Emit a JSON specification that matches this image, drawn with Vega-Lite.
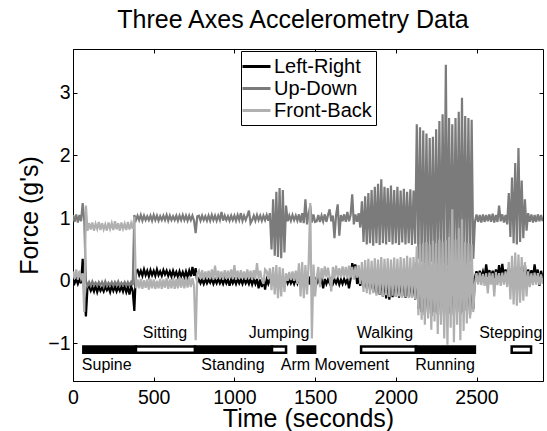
{
"$schema": "https://vega.github.io/schema/vega-lite/v6.json",
"width": 470,
"height": 332,
"autosize": {"type": "none"},
"padding": {"left": 73, "top": 49, "right": 4, "bottom": 50},
"background": "white",
"title": {"text": "Three Axes Accelerometry Data", "fontSize": 25, "font": "Liberation Sans", "fontWeight": "normal", "color": "black", "anchor": "middle", "frame": "group", "baseline": "alphabetic", "offset": 20, "dx": -15, "dy": 24},
"config": {"font": "Liberation Sans", "view": {"stroke": "black", "strokeWidth": 1}, "axis": {"domainColor": "black", "tickColor": "black", "labelColor": "black", "titleColor": "black", "grid": false, "titleFontWeight": "normal", "labelFont": "Liberation Sans", "titleFont": "Liberation Sans"}},
"datasets": {
"acc": [
{"t":0,"Left-Right":0.02,"Up-Down":1.05,"Front-Back":0.15},
{"t":10,"Left-Right":-0.04,"Up-Down":0.94,"Front-Back":0.03},
{"t":20,"Left-Right":0.03,"Up-Down":1.06,"Front-Back":0.18},
{"t":30,"Left-Right":-0.05,"Up-Down":0.93,"Front-Back":0.02},
{"t":40,"Left-Right":0.02,"Up-Down":1.05,"Front-Back":0.16},
{"t":50,"Left-Right":-0.04,"Up-Down":0.95,"Front-Back":0.04},
{"t":60,"Left-Right":0.35,"Up-Down":1.24,"Front-Back":0.12},
{"t":70,"Left-Right":-0.2,"Up-Down":0.95,"Front-Back":-0.5},
{"t":80,"Left-Right":-0.57,"Up-Down":0.0,"Front-Back":1.2},
{"t":90,"Left-Right":-0.1,"Up-Down":-0.08,"Front-Back":0.8},
{"t":100,"Left-Right":-0.09,"Up-Down":-0.02,"Front-Back":0.92},
{"t":110,"Left-Right":-0.16,"Up-Down":-0.08,"Front-Back":0.82},
{"t":120,"Left-Right":-0.1,"Up-Down":-0.01,"Front-Back":0.93},
{"t":130,"Left-Right":-0.17,"Up-Down":-0.07,"Front-Back":0.8},
{"t":140,"Left-Right":-0.08,"Up-Down":-0.03,"Front-Back":0.91},
{"t":150,"Left-Right":-0.18,"Up-Down":-0.08,"Front-Back":0.83},
{"t":160,"Left-Right":-0.09,"Up-Down":-0.02,"Front-Back":0.94},
{"t":170,"Left-Right":-0.16,"Up-Down":-0.07,"Front-Back":0.81},
{"t":180,"Left-Right":-0.11,"Up-Down":-0.02,"Front-Back":0.92},
{"t":190,"Left-Right":-0.17,"Up-Down":-0.09,"Front-Back":0.82},
{"t":200,"Left-Right":-0.09,"Up-Down":-0.01,"Front-Back":0.9},
{"t":210,"Left-Right":-0.15,"Up-Down":-0.08,"Front-Back":0.8},
{"t":220,"Left-Right":-0.1,"Up-Down":-0.03,"Front-Back":0.93},
{"t":230,"Left-Right":-0.18,"Up-Down":-0.07,"Front-Back":0.83},
{"t":240,"Left-Right":-0.08,"Up-Down":-0.02,"Front-Back":0.92},
{"t":250,"Left-Right":-0.16,"Up-Down":-0.08,"Front-Back":0.81},
{"t":260,"Left-Right":-0.09,"Up-Down":-0.02,"Front-Back":0.95},
{"t":270,"Left-Right":-0.17,"Up-Down":-0.07,"Front-Back":0.82},
{"t":280,"Left-Right":-0.1,"Up-Down":-0.01,"Front-Back":0.92},
{"t":290,"Left-Right":-0.16,"Up-Down":-0.08,"Front-Back":0.8},
{"t":300,"Left-Right":-0.09,"Up-Down":-0.03,"Front-Back":0.93},
{"t":310,"Left-Right":-0.17,"Up-Down":-0.07,"Front-Back":0.83},
{"t":320,"Left-Right":-0.08,"Up-Down":-0.02,"Front-Back":0.91},
{"t":330,"Left-Right":-0.18,"Up-Down":-0.08,"Front-Back":0.81},
{"t":340,"Left-Right":-0.1,"Up-Down":-0.02,"Front-Back":0.94},
{"t":350,"Left-Right":-0.22,"Up-Down":-0.07,"Front-Back":0.82},
{"t":360,"Left-Right":-0.09,"Up-Down":-0.02,"Front-Back":0.92},
{"t":370,"Left-Right":-0.16,"Up-Down":-0.07,"Front-Back":0.83},
{"t":380,"Left-Right":-0.48,"Up-Down":1.05,"Front-Back":1.02},
{"t":390,"Left-Right":0.15,"Up-Down":0.97,"Front-Back":-0.12},
{"t":400,"Left-Right":0.17,"Up-Down":1.04,"Front-Back":0.02},
{"t":410,"Left-Right":0.09,"Up-Down":0.97,"Front-Back":-0.12},
{"t":420,"Left-Right":0.16,"Up-Down":1.05,"Front-Back":0.03},
{"t":430,"Left-Right":0.08,"Up-Down":0.96,"Front-Back":-0.13},
{"t":440,"Left-Right":0.18,"Up-Down":1.04,"Front-Back":0.01},
{"t":450,"Left-Right":0.09,"Up-Down":0.97,"Front-Back":-0.11},
{"t":460,"Left-Right":0.16,"Up-Down":1.03,"Front-Back":0.02},
{"t":470,"Left-Right":0.07,"Up-Down":0.97,"Front-Back":-0.14},
{"t":480,"Left-Right":0.17,"Up-Down":1.04,"Front-Back":0.03},
{"t":490,"Left-Right":0.09,"Up-Down":0.96,"Front-Back":-0.12},
{"t":500,"Left-Right":0.16,"Up-Down":1.05,"Front-Back":0.02},
{"t":510,"Left-Right":0.08,"Up-Down":0.97,"Front-Back":-0.13},
{"t":520,"Left-Right":0.18,"Up-Down":1.04,"Front-Back":0.0},
{"t":530,"Left-Right":0.09,"Up-Down":0.96,"Front-Back":-0.12},
{"t":540,"Left-Right":0.15,"Up-Down":1.03,"Front-Back":0.03},
{"t":550,"Left-Right":0.08,"Up-Down":0.97,"Front-Back":-0.13},
{"t":560,"Left-Right":0.17,"Up-Down":1.04,"Front-Back":0.02},
{"t":570,"Left-Right":0.1,"Up-Down":0.97,"Front-Back":-0.11},
{"t":580,"Left-Right":0.16,"Up-Down":1.05,"Front-Back":0.04},
{"t":590,"Left-Right":0.08,"Up-Down":0.96,"Front-Back":-0.13},
{"t":600,"Left-Right":0.15,"Up-Down":1.04,"Front-Back":0.02},
{"t":610,"Left-Right":0.07,"Up-Down":0.97,"Front-Back":-0.12},
{"t":620,"Left-Right":0.16,"Up-Down":1.03,"Front-Back":0.05},
{"t":630,"Left-Right":0.08,"Up-Down":0.97,"Front-Back":-0.13},
{"t":640,"Left-Right":0.14,"Up-Down":1.04,"Front-Back":0.03},
{"t":650,"Left-Right":0.06,"Up-Down":0.96,"Front-Back":-0.12},
{"t":660,"Left-Right":0.15,"Up-Down":1.04,"Front-Back":0.06},
{"t":670,"Left-Right":0.07,"Up-Down":0.97,"Front-Back":-0.11},
{"t":680,"Left-Right":0.14,"Up-Down":1.05,"Front-Back":0.04},
{"t":690,"Left-Right":0.06,"Up-Down":0.97,"Front-Back":-0.12},
{"t":700,"Left-Right":0.15,"Up-Down":1.04,"Front-Back":0.05},
{"t":710,"Left-Right":0.06,"Up-Down":0.96,"Front-Back":-0.11},
{"t":720,"Left-Right":0.16,"Up-Down":1.04,"Front-Back":0.06},
{"t":730,"Left-Right":0.07,"Up-Down":0.97,"Front-Back":-0.1},
{"t":740,"Left-Right":0.22,"Up-Down":1.04,"Front-Back":0.04},
{"t":750,"Left-Right":0.08,"Up-Down":0.96,"Front-Back":-0.08},
{"t":760,"Left-Right":0.2,"Up-Down":0.76,"Front-Back":-0.95},
{"t":770,"Left-Right":-0.03,"Up-Down":1.03,"Front-Back":0.12},
{"t":780,"Left-Right":0.03,"Up-Down":1.04,"Front-Back":0.16},
{"t":790,"Left-Right":-0.04,"Up-Down":0.96,"Front-Back":0.03},
{"t":800,"Left-Right":0.02,"Up-Down":1.04,"Front-Back":0.17},
{"t":810,"Left-Right":-0.05,"Up-Down":0.97,"Front-Back":0.02},
{"t":820,"Left-Right":0.03,"Up-Down":1.03,"Front-Back":0.15},
{"t":830,"Left-Right":-0.04,"Up-Down":0.96,"Front-Back":0.04},
{"t":840,"Left-Right":0.02,"Up-Down":1.04,"Front-Back":0.16},
{"t":850,"Left-Right":-0.03,"Up-Down":0.96,"Front-Back":0.03},
{"t":860,"Left-Right":0.03,"Up-Down":1.05,"Front-Back":0.18},
{"t":870,"Left-Right":-0.05,"Up-Down":0.97,"Front-Back":0.02},
{"t":880,"Left-Right":0.02,"Up-Down":1.04,"Front-Back":0.24},
{"t":890,"Left-Right":-0.04,"Up-Down":0.96,"Front-Back":0.03},
{"t":900,"Left-Right":0.03,"Up-Down":1.04,"Front-Back":0.16},
{"t":910,"Left-Right":-0.04,"Up-Down":0.97,"Front-Back":0.04},
{"t":920,"Left-Right":0.02,"Up-Down":1.1,"Front-Back":0.15},
{"t":930,"Left-Right":-0.05,"Up-Down":0.96,"Front-Back":0.02},
{"t":940,"Left-Right":0.03,"Up-Down":1.04,"Front-Back":0.17},
{"t":950,"Left-Right":-0.04,"Up-Down":0.97,"Front-Back":0.03},
{"t":960,"Left-Right":0.02,"Up-Down":1.03,"Front-Back":0.16},
{"t":970,"Left-Right":-0.08,"Up-Down":0.96,"Front-Back":0.04},
{"t":980,"Left-Right":0.03,"Up-Down":1.04,"Front-Back":0.18},
{"t":990,"Left-Right":-0.04,"Up-Down":0.97,"Front-Back":0.03},
{"t":1000,"Left-Right":0.02,"Up-Down":1.04,"Front-Back":0.25},
{"t":1010,"Left-Right":-0.05,"Up-Down":0.96,"Front-Back":0.02},
{"t":1020,"Left-Right":0.03,"Up-Down":1.05,"Front-Back":0.16},
{"t":1030,"Left-Right":-0.04,"Up-Down":0.97,"Front-Back":0.03},
{"t":1040,"Left-Right":0.02,"Up-Down":1.08,"Front-Back":0.17},
{"t":1050,"Left-Right":-0.05,"Up-Down":0.96,"Front-Back":0.04},
{"t":1060,"Left-Right":0.03,"Up-Down":1.04,"Front-Back":0.15},
{"t":1070,"Left-Right":-0.04,"Up-Down":0.97,"Front-Back":0.02},
{"t":1080,"Left-Right":0.02,"Up-Down":1.04,"Front-Back":0.18},
{"t":1090,"Left-Right":-0.05,"Up-Down":1.12,"Front-Back":0.03},
{"t":1100,"Left-Right":0.03,"Up-Down":0.92,"Front-Back":0.16},
{"t":1110,"Left-Right":-0.06,"Up-Down":0.97,"Front-Back":0.02},
{"t":1120,"Left-Right":0.02,"Up-Down":1.04,"Front-Back":0.17},
{"t":1130,"Left-Right":-0.05,"Up-Down":0.96,"Front-Back":0.04},
{"t":1140,"Left-Right":0.03,"Up-Down":1.05,"Front-Back":0.28},
{"t":1150,"Left-Right":-0.12,"Up-Down":0.97,"Front-Back":0.03},
{"t":1160,"Left-Right":0.02,"Up-Down":1.04,"Front-Back":0.16},
{"t":1170,"Left-Right":-0.1,"Up-Down":0.96,"Front-Back":0.02},
{"t":1180,"Left-Right":0.03,"Up-Down":1.04,"Front-Back":-0.05},
{"t":1190,"Left-Right":-0.14,"Up-Down":0.97,"Front-Back":0.18},
{"t":1200,"Left-Right":0.02,"Up-Down":1.05,"Front-Back":0.15},
{"t":1210,"Left-Right":-0.05,"Up-Down":0.96,"Front-Back":0.03},
{"t":1220,"Left-Right":0.03,"Up-Down":1.08,"Front-Back":0.2},
{"t":1230,"Left-Right":-0.06,"Up-Down":0.5,"Front-Back":-0.15},
{"t":1240,"Left-Right":0.08,"Up-Down":1.3,"Front-Back":0.22},
{"t":1250,"Left-Right":-0.08,"Up-Down":0.4,"Front-Back":-0.22},
{"t":1260,"Left-Right":0.06,"Up-Down":1.42,"Front-Back":0.25},
{"t":1270,"Left-Right":-0.1,"Up-Down":0.38,"Front-Back":-0.28},
{"t":1280,"Left-Right":0.08,"Up-Down":1.48,"Front-Back":0.22},
{"t":1290,"Left-Right":-0.09,"Up-Down":0.36,"Front-Back":-0.25},
{"t":1300,"Left-Right":0.07,"Up-Down":1.45,"Front-Back":0.2},
{"t":1310,"Left-Right":-0.06,"Up-Down":0.45,"Front-Back":-0.18},
{"t":1320,"Left-Right":0.03,"Up-Down":1.2,"Front-Back":0.12},
{"t":1330,"Left-Right":-0.04,"Up-Down":0.95,"Front-Back":0.0},
{"t":1340,"Left-Right":0.03,"Up-Down":1.04,"Front-Back":0.14},
{"t":1350,"Left-Right":-0.04,"Up-Down":0.96,"Front-Back":0.01},
{"t":1360,"Left-Right":0.02,"Up-Down":1.05,"Front-Back":0.15},
{"t":1370,"Left-Right":-0.05,"Up-Down":0.97,"Front-Back":0.0},
{"t":1380,"Left-Right":0.03,"Up-Down":1.04,"Front-Back":0.16},
{"t":1390,"Left-Right":-0.04,"Up-Down":0.96,"Front-Back":-0.05},
{"t":1400,"Left-Right":0.07,"Up-Down":1.06,"Front-Back":0.28},
{"t":1410,"Left-Right":-0.08,"Up-Down":0.93,"Front-Back":-0.25},
{"t":1420,"Left-Right":0.08,"Up-Down":1.08,"Front-Back":0.3},
{"t":1430,"Left-Right":-0.07,"Up-Down":0.92,"Front-Back":-0.28},
{"t":1440,"Left-Right":0.06,"Up-Down":1.3,"Front-Back":0.25},
{"t":1450,"Left-Right":-0.08,"Up-Down":0.9,"Front-Back":-0.22},
{"t":1460,"Left-Right":0.07,"Up-Down":1.07,"Front-Back":0.28},
{"t":1470,"Left-Right":-0.06,"Up-Down":1.2,"Front-Back":1.24},
{"t":1480,"Left-Right":0.08,"Up-Down":0.93,"Front-Back":-0.92},
{"t":1490,"Left-Right":-0.07,"Up-Down":1.06,"Front-Back":0.26},
{"t":1500,"Left-Right":0.05,"Up-Down":0.94,"Front-Back":-0.25},
{"t":1510,"Left-Right":-0.04,"Up-Down":0.95,"Front-Back":0.05},
{"t":1520,"Left-Right":0.03,"Up-Down":1.05,"Front-Back":0.22},
{"t":1530,"Left-Right":-0.05,"Up-Down":0.94,"Front-Back":-0.1},
{"t":1540,"Left-Right":0.02,"Up-Down":1.04,"Front-Back":0.2},
{"t":1550,"Left-Right":-0.12,"Up-Down":0.95,"Front-Back":0.04},
{"t":1560,"Left-Right":0.03,"Up-Down":1.06,"Front-Back":0.23},
{"t":1570,"Left-Right":-0.05,"Up-Down":0.94,"Front-Back":0.06},
{"t":1580,"Left-Right":0.02,"Up-Down":1.05,"Front-Back":0.21},
{"t":1590,"Left-Right":-0.04,"Up-Down":1.14,"Front-Back":0.05},
{"t":1600,"Left-Right":0.03,"Up-Down":0.95,"Front-Back":-0.17},
{"t":1610,"Left-Right":-0.05,"Up-Down":1.04,"Front-Back":0.22},
{"t":1620,"Left-Right":0.02,"Up-Down":0.68,"Front-Back":0.04},
{"t":1630,"Left-Right":-0.04,"Up-Down":1.05,"Front-Back":0.24},
{"t":1640,"Left-Right":0.03,"Up-Down":1.22,"Front-Back":0.06},
{"t":1650,"Left-Right":-0.06,"Up-Down":0.72,"Front-Back":0.2},
{"t":1660,"Left-Right":0.02,"Up-Down":1.05,"Front-Back":0.05},
{"t":1670,"Left-Right":-0.05,"Up-Down":0.95,"Front-Back":0.23},
{"t":1680,"Left-Right":0.03,"Up-Down":1.06,"Front-Back":0.06},
{"t":1690,"Left-Right":-0.04,"Up-Down":0.94,"Front-Back":0.22},
{"t":1700,"Left-Right":0.02,"Up-Down":1.1,"Front-Back":0.04},
{"t":1710,"Left-Right":-0.12,"Up-Down":0.95,"Front-Back":0.24},
{"t":1720,"Left-Right":0.03,"Up-Down":1.05,"Front-Back":0.05},
{"t":1730,"Left-Right":0.28,"Up-Down":1.38,"Front-Back":0.22},
{"t":1740,"Left-Right":0.2,"Up-Down":0.9,"Front-Back":0.02},
{"t":1750,"Left-Right":0.26,"Up-Down":1.06,"Front-Back":0.23},
{"t":1760,"Left-Right":-0.05,"Up-Down":0.94,"Front-Back":0.05},
{"t":1770,"Left-Right":0.03,"Up-Down":1.08,"Front-Back":0.25},
{"t":1780,"Left-Right":-0.08,"Up-Down":0.85,"Front-Back":-0.05},
{"t":1790,"Left-Right":0.1,"Up-Down":1.27,"Front-Back":0.3},
{"t":1800,"Left-Right":-0.1,"Up-Down":0.62,"Front-Back":-0.18},
{"t":1810,"Left-Right":0.08,"Up-Down":1.35,"Front-Back":0.33},
{"t":1820,"Left-Right":-0.12,"Up-Down":0.58,"Front-Back":-0.2},
{"t":1830,"Left-Right":0.1,"Up-Down":1.4,"Front-Back":0.35},
{"t":1840,"Left-Right":-0.14,"Up-Down":0.6,"Front-Back":-0.22},
{"t":1850,"Left-Right":0.09,"Up-Down":1.45,"Front-Back":0.32},
{"t":1860,"Left-Right":-0.18,"Up-Down":0.56,"Front-Back":-0.2},
{"t":1870,"Left-Right":0.08,"Up-Down":1.5,"Front-Back":0.36},
{"t":1880,"Left-Right":-0.2,"Up-Down":0.6,"Front-Back":-0.24},
{"t":1890,"Left-Right":0.1,"Up-Down":1.55,"Front-Back":0.34},
{"t":1900,"Left-Right":-0.22,"Up-Down":0.57,"Front-Back":-0.22},
{"t":1910,"Left-Right":0.09,"Up-Down":1.62,"Front-Back":0.38},
{"t":1920,"Left-Right":-0.25,"Up-Down":0.6,"Front-Back":-0.25},
{"t":1930,"Left-Right":0.08,"Up-Down":1.5,"Front-Back":0.35},
{"t":1940,"Left-Right":-0.28,"Up-Down":0.58,"Front-Back":-0.23},
{"t":1950,"Left-Right":0.1,"Up-Down":1.48,"Front-Back":0.36},
{"t":1960,"Left-Right":-0.3,"Up-Down":0.62,"Front-Back":-0.26},
{"t":1970,"Left-Right":0.09,"Up-Down":1.52,"Front-Back":0.34},
{"t":1980,"Left-Right":-0.26,"Up-Down":0.58,"Front-Back":-0.24},
{"t":1990,"Left-Right":0.08,"Up-Down":1.45,"Front-Back":0.37},
{"t":2000,"Left-Right":-0.25,"Up-Down":0.6,"Front-Back":-0.26},
{"t":2010,"Left-Right":0.1,"Up-Down":1.5,"Front-Back":0.35},
{"t":2020,"Left-Right":-0.27,"Up-Down":0.57,"Front-Back":-0.25},
{"t":2030,"Left-Right":0.09,"Up-Down":1.44,"Front-Back":0.38},
{"t":2040,"Left-Right":-0.24,"Up-Down":0.61,"Front-Back":-0.27},
{"t":2050,"Left-Right":0.08,"Up-Down":1.47,"Front-Back":0.36},
{"t":2060,"Left-Right":-0.27,"Up-Down":0.58,"Front-Back":-0.26},
{"t":2070,"Left-Right":0.1,"Up-Down":1.42,"Front-Back":0.4},
{"t":2080,"Left-Right":-0.25,"Up-Down":0.6,"Front-Back":-0.28},
{"t":2090,"Left-Right":0.09,"Up-Down":1.46,"Front-Back":0.37},
{"t":2100,"Left-Right":-0.26,"Up-Down":0.57,"Front-Back":-0.27},
{"t":2110,"Left-Right":0.08,"Up-Down":1.44,"Front-Back":0.38},
{"t":2120,"Left-Right":-0.3,"Up-Down":0.59,"Front-Back":-0.3},
{"t":2130,"Left-Right":0.3,"Up-Down":2.5,"Front-Back":0.55},
{"t":2140,"Left-Right":-0.45,"Up-Down":0.35,"Front-Back":-0.55},
{"t":2150,"Left-Right":0.28,"Up-Down":2.45,"Front-Back":0.58},
{"t":2160,"Left-Right":-0.5,"Up-Down":0.3,"Front-Back":-0.62},
{"t":2170,"Left-Right":0.3,"Up-Down":2.4,"Front-Back":0.6},
{"t":2180,"Left-Right":-0.55,"Up-Down":0.28,"Front-Back":-0.7},
{"t":2190,"Left-Right":0.32,"Up-Down":2.35,"Front-Back":0.62},
{"t":2200,"Left-Right":-0.52,"Up-Down":0.25,"Front-Back":-0.6},
{"t":2210,"Left-Right":0.3,"Up-Down":2.28,"Front-Back":0.58},
{"t":2220,"Left-Right":-0.56,"Up-Down":0.3,"Front-Back":-0.78},
{"t":2230,"Left-Right":0.28,"Up-Down":2.3,"Front-Back":0.64},
{"t":2240,"Left-Right":-0.5,"Up-Down":0.26,"Front-Back":-0.65},
{"t":2250,"Left-Right":0.3,"Up-Down":2.42,"Front-Back":0.6},
{"t":2260,"Left-Right":-0.53,"Up-Down":0.28,"Front-Back":-0.85},
{"t":2270,"Left-Right":0.31,"Up-Down":2.55,"Front-Back":0.66},
{"t":2280,"Left-Right":-0.55,"Up-Down":0.25,"Front-Back":-0.7},
{"t":2290,"Left-Right":0.3,"Up-Down":2.66,"Front-Back":0.62},
{"t":2300,"Left-Right":-0.5,"Up-Down":0.28,"Front-Back":-0.92},
{"t":2310,"Left-Right":0.32,"Up-Down":3.45,"Front-Back":0.65},
{"t":2320,"Left-Right":-0.54,"Up-Down":0.24,"Front-Back":-1.02},
{"t":2330,"Left-Right":0.3,"Up-Down":2.6,"Front-Back":0.7},
{"t":2340,"Left-Right":-0.52,"Up-Down":0.27,"Front-Back":-0.75},
{"t":2350,"Left-Right":0.31,"Up-Down":2.5,"Front-Back":1.14},
{"t":2360,"Left-Right":-0.55,"Up-Down":0.25,"Front-Back":-0.98},
{"t":2370,"Left-Right":0.3,"Up-Down":2.6,"Front-Back":0.66},
{"t":2380,"Left-Right":-0.5,"Up-Down":0.28,"Front-Back":-0.7},
{"t":2390,"Left-Right":0.29,"Up-Down":2.7,"Front-Back":0.84},
{"t":2400,"Left-Right":-0.53,"Up-Down":0.26,"Front-Back":-0.95},
{"t":2410,"Left-Right":0.3,"Up-Down":2.92,"Front-Back":0.98},
{"t":2420,"Left-Right":-0.5,"Up-Down":0.3,"Front-Back":-0.8},
{"t":2430,"Left-Right":0.31,"Up-Down":2.63,"Front-Back":0.62},
{"t":2440,"Left-Right":-0.48,"Up-Down":0.28,"Front-Back":-0.68},
{"t":2450,"Left-Right":0.3,"Up-Down":2.6,"Front-Back":0.6},
{"t":2460,"Left-Right":-0.55,"Up-Down":0.3,"Front-Back":-0.6},
{"t":2470,"Left-Right":0.28,"Up-Down":2.57,"Front-Back":0.58},
{"t":2480,"Left-Right":-0.45,"Up-Down":0.35,"Front-Back":-0.5},
{"t":2490,"Left-Right":0.05,"Up-Down":0.94,"Front-Back":-0.05},
{"t":2500,"Left-Right":0.15,"Up-Down":1.06,"Front-Back":0.12},
{"t":2510,"Left-Right":0.05,"Up-Down":0.94,"Front-Back":-0.06},
{"t":2520,"Left-Right":0.16,"Up-Down":1.05,"Front-Back":0.13},
{"t":2530,"Left-Right":0.06,"Up-Down":0.93,"Front-Back":-0.07},
{"t":2540,"Left-Right":0.15,"Up-Down":1.06,"Front-Back":0.11},
{"t":2550,"Left-Right":0.05,"Up-Down":0.94,"Front-Back":-0.08},
{"t":2560,"Left-Right":0.26,"Up-Down":1.05,"Front-Back":0.12},
{"t":2570,"Left-Right":0.06,"Up-Down":0.95,"Front-Back":-0.2},
{"t":2580,"Left-Right":0.17,"Up-Down":1.06,"Front-Back":0.13},
{"t":2590,"Left-Right":0.05,"Up-Down":0.94,"Front-Back":-0.06},
{"t":2600,"Left-Right":0.16,"Up-Down":1.07,"Front-Back":0.12},
{"t":2610,"Left-Right":0.04,"Up-Down":0.93,"Front-Back":-0.25},
{"t":2620,"Left-Right":0.18,"Up-Down":1.05,"Front-Back":0.14},
{"t":2630,"Left-Right":0.06,"Up-Down":0.94,"Front-Back":-0.07},
{"t":2640,"Left-Right":0.25,"Up-Down":1.2,"Front-Back":0.12},
{"t":2650,"Left-Right":0.05,"Up-Down":0.95,"Front-Back":-0.08},
{"t":2660,"Left-Right":0.27,"Up-Down":1.06,"Front-Back":0.13},
{"t":2670,"Left-Right":0.06,"Up-Down":0.93,"Front-Back":-0.06},
{"t":2680,"Left-Right":0.18,"Up-Down":1.05,"Front-Back":0.15},
{"t":2690,"Left-Right":0.04,"Up-Down":0.9,"Front-Back":-0.1},
{"t":2700,"Left-Right":0.2,"Up-Down":1.4,"Front-Back":0.3},
{"t":2710,"Left-Right":0.0,"Up-Down":0.7,"Front-Back":-0.3},
{"t":2720,"Left-Right":0.2,"Up-Down":1.65,"Front-Back":0.4},
{"t":2730,"Left-Right":-0.02,"Up-Down":0.6,"Front-Back":-0.38},
{"t":2740,"Left-Right":0.22,"Up-Down":1.88,"Front-Back":0.45},
{"t":2750,"Left-Right":0.0,"Up-Down":0.58,"Front-Back":-0.4},
{"t":2760,"Left-Right":0.2,"Up-Down":2.12,"Front-Back":0.42},
{"t":2770,"Left-Right":-0.02,"Up-Down":0.62,"Front-Back":-0.35},
{"t":2780,"Left-Right":0.22,"Up-Down":1.6,"Front-Back":0.38},
{"t":2790,"Left-Right":0.0,"Up-Down":0.68,"Front-Back":-0.32},
{"t":2800,"Left-Right":0.25,"Up-Down":1.3,"Front-Back":0.3},
{"t":2810,"Left-Right":-0.05,"Up-Down":0.8,"Front-Back":-0.25},
{"t":2820,"Left-Right":0.18,"Up-Down":1.08,"Front-Back":0.15},
{"t":2830,"Left-Right":0.05,"Up-Down":0.94,"Front-Back":-0.1},
{"t":2840,"Left-Right":0.17,"Up-Down":1.06,"Front-Back":0.12},
{"t":2850,"Left-Right":0.05,"Up-Down":0.93,"Front-Back":-0.07},
{"t":2860,"Left-Right":0.26,"Up-Down":1.05,"Front-Back":0.13},
{"t":2870,"Left-Right":0.06,"Up-Down":0.94,"Front-Back":-0.06},
{"t":2880,"Left-Right":0.18,"Up-Down":1.06,"Front-Back":0.12},
{"t":2890,"Left-Right":-0.08,"Up-Down":0.95,"Front-Back":-0.07},
{"t":2900,"Left-Right":0.16,"Up-Down":1.05,"Front-Back":0.1},
{"t":2910,"Left-Right":0.04,"Up-Down":0.95,"Front-Back":-0.05}
],
"acts": [
{"activity":"Supine","start":64,"end":390,"pos":"below","mid":209},
{"activity":"Sitting","start":390,"end":756,"pos":"above","mid":570},
{"activity":"Standing","start":756,"end":1233,"pos":"below","mid":991},
{"activity":"Jumping","start":1233,"end":1320,"pos":"above","mid":1277},
{"activity":"Arm Movement","start":1392,"end":1500,"pos":"below","mid":1623},
{"activity":"Walking","start":1785,"end":2125,"pos":"above","mid":1933},
{"activity":"Running","start":2125,"end":2490,"pos":"below","mid":2305},
{"activity":"Stepping","start":2718,"end":2838,"pos":"above","mid":2712}
]
},
"layer": [
{
"data": {"name": "acc"},
"transform": [{"fold": ["Left-Right", "Up-Down", "Front-Back"], "as": ["series", "force"]}, {"filter": "datum.series === 'Left-Right'"}],
"mark": {"type": "line", "strokeWidth": 2.2, "clip": true},
"encoding": {
"x": {"field": "t", "type": "quantitative", "scale": {"domain": [0, 2912], "nice": false, "zero": false}, "axis": {"orient": "bottom", "values": [0, 500, 1000, 1500, 2000, 2500], "format": "d", "labelFontSize": 19.5, "labelBaseline": "alphabetic", "labelPadding": 26, "tickSize": -4, "labelFlush": false, "title": "Time (seconds)", "titleFontSize": 25, "titleX": 235, "titleY": 45, "titleBaseline": "alphabetic", "titleAlign": "center"}},
"y": {"field": "force", "type": "quantitative", "scale": {"domain": [-1.6, 3.7], "nice": false, "zero": false}, "axis": {"orient": "left", "values": [-1, 0, 1, 2, 3], "labelFontSize": 19.5, "labelPadding": 7, "tickSize": -4, "labelFlush": false, "title": "Force (g's)", "titleFontSize": 25, "titleX": -36, "titleY": 166, "titleAngle": -90, "titleBaseline": "alphabetic", "titleAlign": "center"}},
"color": {"field": "series", "type": "nominal", "scale": {"domain": ["Left-Right", "Up-Down", "Front-Back"], "range": ["#000000", "#7b7b7b", "#b0b0b0"]}, "legend": {"orient": "none", "legendX": 168, "legendY": 2, "title": null, "symbolType": "M-1.4,0H1.4", "symbolSize": 400, "symbolStrokeWidth": 3, "labelFontSize": 20, "labelOffset": 6, "padding": 4, "rowPadding": 0, "strokeColor": "black", "fillColor": "white", "labelColor": "black", "labelFont": "Liberation Sans"}}
}
},
{
"data": {"name": "acc"},
"transform": [{"fold": ["Left-Right", "Up-Down", "Front-Back"], "as": ["series", "force"]}, {"filter": "datum.series === 'Up-Down'"}],
"mark": {"type": "line", "strokeWidth": 2.2, "clip": true},
"encoding": {
"x": {"field": "t", "type": "quantitative", "scale": {"domain": [0, 2912], "nice": false, "zero": false}, "axis": null},
"y": {"field": "force", "type": "quantitative", "scale": {"domain": [-1.6, 3.7], "nice": false, "zero": false}, "axis": null},
"color": {"field": "series", "type": "nominal", "scale": {"domain": ["Left-Right", "Up-Down", "Front-Back"], "range": ["#000000", "#7b7b7b", "#b0b0b0"]}, "legend": {"orient": "none", "legendX": 168, "legendY": 2, "title": null, "symbolType": "M-1.4,0H1.4", "symbolSize": 400, "symbolStrokeWidth": 3, "labelFontSize": 20, "labelOffset": 6, "padding": 4, "rowPadding": 0, "strokeColor": "black", "fillColor": "white", "labelColor": "black", "labelFont": "Liberation Sans"}}
}
},
{
"data": {"name": "acc"},
"transform": [{"fold": ["Left-Right", "Up-Down", "Front-Back"], "as": ["series", "force"]}, {"filter": "datum.series === 'Front-Back'"}],
"mark": {"type": "line", "strokeWidth": 2.2, "clip": true},
"encoding": {
"x": {"field": "t", "type": "quantitative", "scale": {"domain": [0, 2912], "nice": false, "zero": false}, "axis": null},
"y": {"field": "force", "type": "quantitative", "scale": {"domain": [-1.6, 3.7], "nice": false, "zero": false}, "axis": null},
"color": {"field": "series", "type": "nominal", "scale": {"domain": ["Left-Right", "Up-Down", "Front-Back"], "range": ["#000000", "#7b7b7b", "#b0b0b0"]}, "legend": {"orient": "none", "legendX": 168, "legendY": 2, "title": null, "symbolType": "M-1.4,0H1.4", "symbolSize": 400, "symbolStrokeWidth": 3, "labelFontSize": 20, "labelOffset": 6, "padding": 4, "rowPadding": 0, "strokeColor": "black", "fillColor": "white", "labelColor": "black", "labelFont": "Liberation Sans"}}
}
},
{
"data": {"name": "acts"},
"mark": {"type": "rect", "stroke": "black", "strokeWidth": 2.5},
"encoding": {
"x": {"field": "start", "type": "quantitative", "scale": {"domain": [0, 2912], "nice": false, "zero": false}, "axis": {"orient": "top", "values": [0, 500, 1000, 1500, 2000, 2500], "labels": false, "tickSize": -4, "title": null, "domain": false}},
"x2": {"field": "end"},
"y": {"datum": -1.05, "type": "quantitative", "scale": {"domain": [-1.6, 3.7], "nice": false, "zero": false}, "axis": {"orient": "right", "values": [-1, 0, 1, 2, 3], "labels": false, "tickSize": -4, "title": null, "domain": false}},
"y2": {"datum": -1.15},
"fill": {"condition": {"test": "datum.pos === 'above'", "value": "white"}, "value": "black"}
}
},
{
"data": {"name": "acts"},
"transform": [{"filter": "datum.pos === 'above'"}],
"mark": {"type": "text", "fontSize": 16, "font": "Liberation Sans", "color": "black", "baseline": "middle", "align": "center"},
"encoding": {
"x": {"field": "mid", "type": "quantitative", "scale": {"domain": [0, 2912], "nice": false, "zero": false}, "axis": null},
"y": {"datum": -0.84, "type": "quantitative", "scale": {"domain": [-1.6, 3.7], "nice": false, "zero": false}, "axis": null},
"text": {"field": "activity"}
}
},
{
"data": {"name": "acts"},
"transform": [{"filter": "datum.pos === 'below'"}],
"mark": {"type": "text", "fontSize": 16, "font": "Liberation Sans", "color": "black", "baseline": "middle", "align": "center"},
"encoding": {
"x": {"field": "mid", "type": "quantitative", "scale": {"domain": [0, 2912], "nice": false, "zero": false}, "axis": null},
"y": {"datum": -1.34, "type": "quantitative", "scale": {"domain": [-1.6, 3.7], "nice": false, "zero": false}, "axis": null},
"text": {"field": "activity"}
}
}
],
"resolve": {"axis": {"x": "independent", "y": "independent"}}
}
